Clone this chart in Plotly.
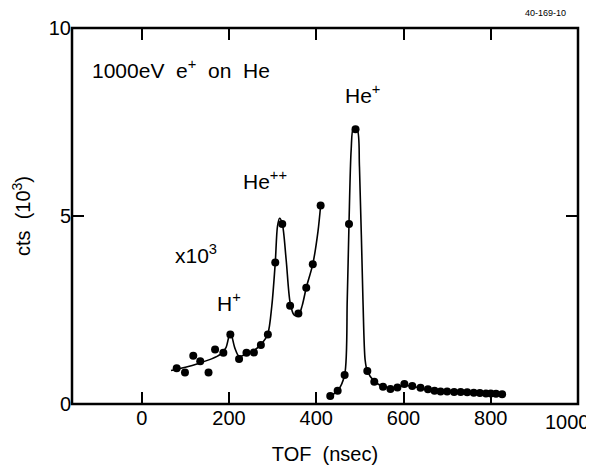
import plotly.graph_objects as go

# measured points (TOF nsec, counts in 10^3)
pts_x = [80, 99, 118, 134, 153, 168, 187, 203, 223, 240, 257, 273, 289, 306, 322,
         340, 359, 377, 392, 410, 432, 449, 465, 475, 490, 517, 533, 553, 570, 586,
         602, 620, 639, 656, 671, 685, 700, 716, 731, 746, 761, 775, 789, 800, 812, 826]
pts_y = [0.95, 0.84, 1.28, 1.14, 0.84, 1.45, 1.36, 1.85, 1.20, 1.36, 1.37, 1.57, 1.85, 3.76, 4.79,
         2.61, 2.41, 3.09, 3.72, 5.28, 0.21, 0.35, 0.77, 4.79, 7.31, 0.88, 0.59, 0.46, 0.40, 0.44,
         0.53, 0.48, 0.43, 0.39, 0.35, 0.33, 0.33, 0.32, 0.32, 0.31, 0.30, 0.29, 0.28, 0.28, 0.27, 0.26]

# hand-drawn fit curve, low-mass segment (x10^3 scale)
fit1_x = [67, 100, 130, 160, 180, 193, 203, 213, 223, 240, 258, 275, 289, 298, 306, 311, 316,
          322, 331, 340, 349, 359, 368, 377, 392, 404, 410]
fit1_y = [0.89, 0.98, 1.08, 1.2, 1.32, 1.5, 1.92, 1.5, 1.27, 1.33, 1.43, 1.6, 1.87, 2.6, 3.76, 4.72, 4.94,
          4.8, 3.83, 2.7, 2.37, 2.35, 2.63, 3.09, 3.72, 4.6, 5.28]
# fit curve, He+ segment
fit2_x = [432, 449, 465, 471, 475, 480, 485, 494, 499, 507, 512, 517, 533, 552, 570, 586, 602,
          620, 640, 670, 700, 760, 830]
fit2_y = [0.21, 0.35, 0.77, 2.77, 4.79, 6.76, 7.33, 7.29, 6.31, 2.77, 1.17, 0.88, 0.6, 0.47, 0.42, 0.44, 0.5,
          0.47, 0.42, 0.36, 0.32, 0.29, 0.25]

x_ticks = [0, 200, 400, 600, 800, 1000]
x_labels = ["0", "200", "400", "600", "800", ""]   # last label drawn separately so it stays in the page
last_x_label = "1000"
y_ticks = [0, 5, 10]

FONT = "Liberation Sans"
INK = "black"

fig = go.Figure()
for fx, fy in [(fit1_x, fit1_y), (fit2_x, fit2_y)]:
    fig.add_trace(go.Scatter(x=fx, y=fy, mode="lines",
                             line=dict(color=INK, width=1.6, shape="spline", smoothing=0.8),
                             hoverinfo="skip", showlegend=False))
fig.add_trace(go.Scatter(x=pts_x, y=pts_y, mode="markers",
                         marker=dict(color=INK, size=8), showlegend=False))

ann = dict(showarrow=False, font=dict(family=FONT, size=21, color=INK), xref="x", yref="y")
fig.add_annotation(text="1000eV  e<sup>+</sup>  on  He", x=-118, y=8.9, xanchor="left", **ann)
fig.add_annotation(text="He<sup>+</sup>", x=505, y=8.25, **ann)
fig.add_annotation(text="He<sup>++</sup>", x=282, y=5.95, **ann)
fig.add_annotation(text="x10<sup>3</sup>", x=125, y=4.0, **ann)
fig.add_annotation(text="H<sup>+</sup>", x=200, y=2.7, **ann)
fig.add_annotation(text="40-169-10", x=1.0, y=1.0, xref="paper", yref="paper",
                   xanchor="right", yanchor="bottom", yshift=8, xshift=-10, showarrow=False,
                   font=dict(family=FONT, size=9, color=INK))
fig.add_annotation(text=last_x_label, x=x_ticks[-1], y=0, xref="x", yref="paper",
                   xanchor="right", yanchor="top", xshift=14, yshift=-5, showarrow=False,
                   font=dict(family=FONT, size=20, color=INK))

# plot frame
fig.add_shape(type="rect", xref="paper", yref="paper", x0=0, y0=0, x1=1, y1=1,
              line=dict(color=INK, width=2.5), layer="above")

axis_common = dict(showline=False, mirror="allticks",
                   ticks="inside", ticklen=12, tickwidth=2, tickcolor=INK,
                   showgrid=False, zeroline=False, automargin=False,
                   tickfont=dict(family=FONT, size=20, color=INK))
fig.update_xaxes(range=[-160, 1000], tickvals=x_ticks, ticktext=x_labels,
                 title=dict(text="TOF  (nsec)", font=dict(family=FONT, size=20, color=INK),
                            standoff=18),
                 **axis_common)
fig.update_yaxes(range=[0, 10], tickvals=y_ticks, ticktext=[str(v) for v in y_ticks],
                 title=dict(text="cts  (10<sup>3</sup>)", font=dict(family=FONT, size=20, color=INK),
                            standoff=12),
                 **axis_common)
# the page body offsets the figure by 8 px, so the figure is 8 px smaller
fig.update_layout(width=586, height=463, plot_bgcolor="white", paper_bgcolor="white",
                  margin=dict(l=64, r=16, t=20, b=67), showlegend=False)
fig.write_html("out.html")
